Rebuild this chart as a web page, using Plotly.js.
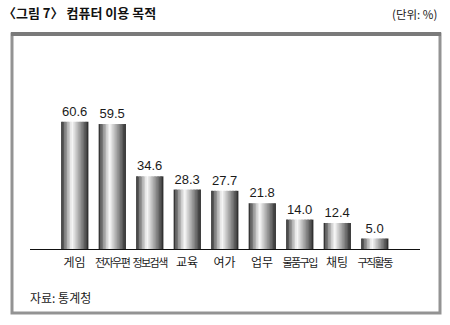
<!DOCTYPE html>
<html>
<head>
<meta charset="utf-8">
<script src="https://cdn.plot.ly/plotly-3.0.1.min.js"></script>
<style>html,body{margin:0;padding:0;background:#fff;}#chart{width:450px;height:325px;}</style>
</head>
<body>
<div id="chart"></div>
<script>
const categories = ["게임", "전자우편", "정보검색", "교육", "여가", "업무", "물품구입", "채팅", "구직활동"];
const values = [60.6, 59.5, 34.6, 28.3, 27.7, 21.8, 14.0, 12.4, 5.0];
const valueLabels = ["60.6", "59.5", "34.6", "28.3", "27.7", "21.8", "14.0", "12.4", "5.0"];
const titleText = "〈그림 7〉 컴퓨터 이용 목적";
const unitText = "(단위: %)";
const sourceText = "자료: 통계청";

// plot geometry (pixels)
const W = 450, H = 325;
const L = 30, R = 420, T = 60, B = 249;
const px2x = p => (p - L) / (R - L);
const px2y = p => (B - p) / (B - T);

// cylinder-like shading built from narrow overlaid stripes
const barW = 0.72, nStripes = 18, step = barW / nStripes, hi = 0.4;
const traces = [];
for (let i = 0; i < nStripes; i++) {
  const t = (i + 0.5) / nStripes;
  let b = t < hi ? 1 - (hi - t) / hi : 1 - (t - hi) / (1 - hi);
  b = Math.pow(Math.max(0, b), 0.9);
  const g = Math.round(35 + 215 * b);
  traces.push({
    type: "bar", x: categories, y: values,
    width: step * 1.2, offset: -barW / 2 + i * step,
    marker: {color: `rgb(${g},${g},${g})`, line: {width: 0}},
    hoverinfo: "skip", showlegend: false
  });
}
traces.push({
  type: "bar", x: categories, y: values, width: barW,
  marker: {color: "rgba(0,0,0,0)", line: {width: 0}},
  text: valueLabels, textposition: "outside", cliponaxis: false,
  textfont: {family: "Liberation Sans, Arial, sans-serif", size: 13, color: "#1a1a1a"},
  hoverinfo: "skip", showlegend: false
});

const tickText = categories.map(c => c.length > 2
  ? `<span style="font-size:11px;letter-spacing:-1.6px">${c}</span>` : c);

const layout = {
  width: W, height: H,
  margin: {l: L, r: W - R, t: T, b: H - B, pad: 0},
  paper_bgcolor: "#fff", plot_bgcolor: "#fff",
  barmode: "overlay",
  showlegend: false,
  font: {family: "Noto Sans CJK KR, sans-serif", color: "#1a1a1a"},
  title: {
    text: "<b>" + titleText + "</b>",
    font: {family: "Noto Sans CJK KR, sans-serif", size: 13, color: "#111"},
    x: 3 / W, xref: "container", xanchor: "left",
    y: 1 - 13 / H, yref: "container", yanchor: "middle"
  },
  xaxis: {
    type: "category", range: [-1.19, 9.21],
    tickmode: "array", tickvals: categories, ticktext: tickText,
    ticks: "", showgrid: false, zeroline: false,
    showline: true, linecolor: "#111", linewidth: 1.2,
    tickfont: {family: "Noto Sans CJK KR, sans-serif", size: 12, color: "#1a1a1a"},
    ticklabelstandoff: 2, fixedrange: true
  },
  yaxis: {
    range: [0, 90], visible: false, showgrid: false, zeroline: false, fixedrange: true
  },
  annotations: [
    {text: unitText, xref: "paper", yref: "paper", x: px2x(439), y: px2y(14),
     xanchor: "right", yanchor: "middle", showarrow: false,
     font: {family: "Noto Sans CJK KR, sans-serif", size: 11.5, color: "#222"}},
    {text: sourceText, xref: "paper", yref: "paper", x: px2x(28), y: px2y(297),
     xanchor: "left", yanchor: "middle", showarrow: false,
     font: {family: "Noto Sans CJK KR, sans-serif", size: 12, color: "#1a1a1a"}}
  ],
  shapes: [
    {type: "rect", xref: "paper", yref: "paper",
     x0: px2x(12), x1: px2x(440), y0: px2y(313), y1: px2y(34),
     line: {color: "#939393", width: 3}, fillcolor: "rgba(0,0,0,0)", layer: "below"},
    {type: "line", xref: "paper", yref: "paper",
     x0: px2x(11), x1: px2x(441), y0: px2y(34), y1: px2y(34),
     line: {color: "#7a7a7a", width: 4}, layer: "below"}
  ]
};

Plotly.newPlot("chart", traces, layout, {displayModeBar: false, staticPlot: true});
</script>
</body>
</html>
